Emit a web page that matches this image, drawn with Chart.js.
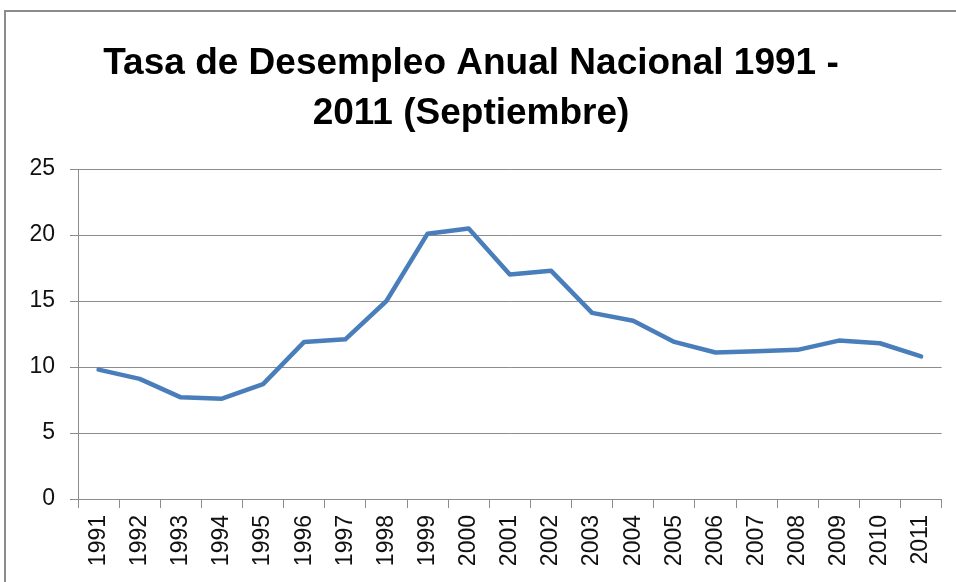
<!DOCTYPE html>
<html lang="es">
<head>
  <meta charset="UTF-8">
  <title>Tasa de Desempleo Anual Nacional 1991 - 2011</title>
  <script src="https://cdn.jsdelivr.net/npm/chart.js"></script>
  <style>
    html, body {
      margin: 0;
      padding: 0;
      background: #fff;
      overflow: hidden;
    }
    .frame {
      position: absolute;
      left: 0;
      top: 0;
      width: 956px;
      height: 582px;
    }
    .border-box {
      position: absolute;
      left: 4px;
      top: 10px;
      width: 1000px;
      height: 700px;
      border: 2px solid #8c8c8c;
    }
    canvas {
      position: absolute;
      left: 0;
      top: 0;
    }
  </style>
</head>
<body>
  <div class="frame">
    <div class="border-box"></div>
    <canvas id="chart" width="956" height="582"></canvas>
  </div>

  <script>
    // Data
    const years = ['1991', '1992', '1993', '1994', '1995', '1996', '1997', '1998', '1999', '2000',
                   '2001', '2002', '2003', '2004', '2005', '2006', '2007', '2008', '2009', '2010', '2011'];
    const unemployment = [9.8, 9.1, 7.7, 7.6, 8.7, 11.9, 12.1, 15.0, 20.1, 20.5,
                          17.0, 17.3, 14.1, 13.5, 11.9, 11.1, 11.2, 11.3, 12.0, 11.8, 10.8];
    const yTicks = [0, 5, 10, 15, 20, 25];
    const titleLines = ['Tasa de Desempleo Anual Nacional 1991 -', '2011 (Septiembre)'];

    const titleFamily = "'Liberation Sans Narrow', 'Liberation Sans', Arial, sans-serif";
    const tickFamily = "'Liberation Sans', Arial, sans-serif";

    // pick a title size so the first line is about as wide as in the reference
    function fitTitleSize(text, targetWidth) {
      const c = document.createElement('canvas').getContext('2d');
      c.font = `bold 100px ${titleFamily}`;
      const w = c.measureText(text).width;
      return Math.min(46, Math.floor(100 * targetWidth / w));
    }
    const titleSize = fitTitleSize(titleLines[0], 736);

    const ctx = document.getElementById('chart').getContext('2d');
    new Chart(ctx, {
      type: 'line',
      data: {
        labels: years,
        datasets: [{
          label: 'Tasa de desempleo',
          data: unemployment,
          borderColor: '#4a7ebb',
          borderWidth: 4.5,
          pointRadius: 0,
          tension: 0,
          fill: false,
          borderCapStyle: 'round',
          borderJoinStyle: 'round'
        }]
      },
      options: {
        responsive: false,
        animation: false,
        layout: {
          padding: { left: 0, right: 14, top: 0, bottom: 0 }
        },
        plugins: {
          legend: { display: false },
          tooltip: { enabled: false },
          title: {
            display: true,
            text: titleLines,
            color: '#000',
            font: { family: titleFamily, size: titleSize, weight: 'bold', lineHeight: 50 / titleSize },
            padding: { top: 39, bottom: 30 }
          }
        },
        scales: {
          x: {
            offset: true,
            afterFit: (scale) => { scale.height = 83; },
            border: { display: true, color: '#8c8c8c', width: 1 },
            grid: {
              offset: true,
              drawOnChartArea: false,
              drawTicks: true,
              tickLength: 9,
              color: '#8c8c8c'
            },
            ticks: {
              autoSkip: false,
              maxRotation: 90,
              minRotation: 90,
              padding: 7,
              color: '#111',
              font: { family: tickFamily, size: 23 }
            }
          },
          y: {
            min: 0,
            max: 25,
            afterFit: (scale) => { scale.width = 78; },
            afterBuildTicks: (scale) => { scale.ticks = yTicks.map(v => ({ value: v })); },
            border: { display: true, color: '#8c8c8c', width: 1 },
            grid: {
              color: '#8c8c8c',
              tickLength: 8,
              drawTicks: true
            },
            ticks: {
              padding: 15,
              color: '#111',
              font: { family: tickFamily, size: 23 }
            }
          }
        }
      }
    });
  </script>
</body>
</html>
